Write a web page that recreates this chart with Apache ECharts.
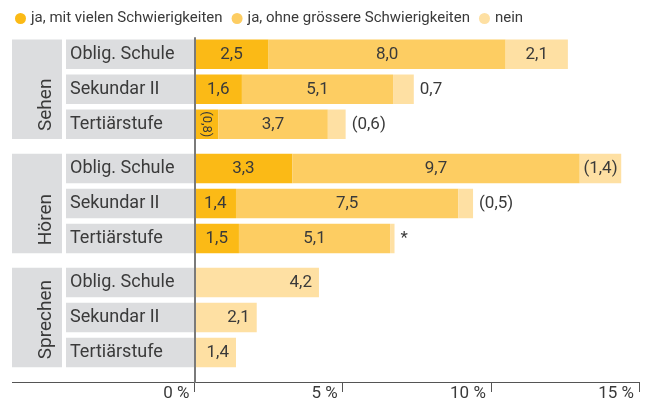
<!DOCTYPE html>
<html>
<head>
<meta charset="utf-8">
<script src="https://cdn.jsdelivr.net/npm/echarts@6/dist/echarts.min.js"></script>
<style>
  html, body { margin: 0; padding: 0; background: #ffffff; }
  #chart { width: 653px; height: 403px; }
</style>
</head>
<body>
<div id="chart"></div>
<script>
// Behinderungsart (Gruppen) und Bildungsstufe (Zeilen)
const gruppen = ['Sehen', 'Hören', 'Sprechen'];
const stufen = ['Oblig. Schule', 'Sekundar II', 'Tertiärstufe'];
const serienNamen = ['ja, mit vielen Schwierigkeiten', 'ja, ohne grössere Schwierigkeiten', 'nein'];

// Anteile in %, je Gruppe drei Bildungsstufen
const mitVielen     = [[2.5, 1.6, 0.8], [3.3, 1.4, 1.5], [null, null, null]];
const ohneGroessere = [[8.0, 5.1, 3.7], [9.7, 7.5, 5.1], [null, null, null]];
const nein          = [[2.1, 0.7, 0.6], [1.4, 0.5, 0.15], [4.2, 2.1, 1.4]];

// '()' = eingeschränkte Zuverlässigkeit, '*' = zu wenige Fälle
const hinweisMitVielen = [['', '', '()'], ['', '', ''], ['', '', '']];
const hinweisOhne      = [['', '', ''], ['', '', ''], ['', '', '']];
const hinweisNein      = [['', '', '()'], ['()', '()', '*'], ['', '', '']];

const achseMin = 0, achseMax = 15, achseSchritt = 5;

// Layout
const X0 = 194.5, RECHTS = 14;
const BAND = 35, BALKEN = 29.5;
const GRUPPE_TOP = [36.75, 151, 265];
const ACHSE_Y = 382;
const TEXT = '#3a3a3a';
const FONT = 'Roboto';
const farben = ['#fbba16', '#fdcd62', '#fee0a3'];

const werte = [mitVielen, ohneGroessere, nein];
const hinweise = [hinweisMitVielen, hinweisOhne, hinweisNein];

function zahl(v) { return v.toFixed(1).replace('.', ','); }
function beschriftung(v, h) {
  if (h === '*') return '*';
  if (h === '()') return '(' + zahl(v) + ')';
  return zahl(v);
}

const grids = [], xAxes = [], yAxes = [], series = [], graphic = [];

gruppen.forEach((g, gi) => {
  grids.push({ left: X0, right: RECHTS, top: GRUPPE_TOP[gi], height: BAND * 3 });
  xAxes.push({ gridIndex: gi, type: 'value', min: achseMin, max: achseMax, show: false });
  yAxes.push({
    gridIndex: gi, type: 'category', inverse: true, data: stufen,
    axisLine: { show: false }, axisTick: { show: false },
    axisLabel: {
      interval: 0, margin: 128.5, align: 'left', verticalAlign: 'middle',
      width: 124, height: BALKEN - 2, lineHeight: BALKEN - 2,
      padding: [0, 0, 2, 4],
      backgroundColor: '#dcdddf',
      fontFamily: FONT, fontSize: 18, color: TEXT
    }
  });

  werte.forEach((arr, si) => {
    const data = arr[gi].map((v, ri) => {
      if (v == null) return '-';
      const h = hinweise[si][gi][ri];
      const allein = werte.every((a, k) => k === si || a[gi][ri] == null);
      const lbl = { show: true, formatter: beschriftung(v, h) };
      if (si === 0 && v < 1) {
        Object.assign(lbl, { position: 'inside', rotate: -90, fontSize: 13 });
      } else if (allein) {
        Object.assign(lbl, { position: 'insideRight', distance: 7 });
      } else if (v < 1) {
        Object.assign(lbl, { position: 'right', distance: 6 });
      } else {
        lbl.position = 'inside';
      }
      return { value: v, label: lbl };
    });
    series.push({
      type: 'bar', name: serienNamen[si],
      xAxisIndex: gi, yAxisIndex: gi, stack: 'g' + gi,
      barWidth: BALKEN,
      itemStyle: { color: farben[si] },
      label: { fontFamily: FONT, fontSize: 17, color: TEXT },
      emphasis: { disabled: true },
      data
    });
  });

  // Gruppenkasten mit senkrechter Beschriftung
  const oben = GRUPPE_TOP[gi] + (BAND - BALKEN) / 2;
  const hoehe = BAND * 2 + BALKEN;
  graphic.push({
    type: 'rect', shape: { x: 12, y: oben, width: 50, height: hoehe },
    style: { fill: '#dcdddf' }, silent: true
  });
  graphic.push({
    type: 'text', x: 46.5, y: oben + hoehe - 8, rotation: Math.PI / 2,
    style: { text: g, fontFamily: FONT, fontSize: 19, fill: TEXT, align: 'left', verticalAlign: 'middle' },
    silent: true
  });
});

// Gemeinsame Prozentachse über alle Gruppen
grids.push({ left: X0, right: RECHTS, top: 38, bottom: 403 - ACHSE_Y });
xAxes.push({
  gridIndex: 3, type: 'value', min: achseMin, max: achseMax, interval: achseSchritt,
  axisLine: { show: true, lineStyle: { color: '#555555', width: 1 } },
  axisTick: { show: true, length: 10, lineStyle: { color: '#555555', width: 1 } },
  splitLine: { show: false },
  axisLabel: {
    formatter: v => v + ' %', align: 'right', padding: [0, 5, 0, 0], margin: 3,
    fontFamily: FONT, fontSize: 17, color: TEXT
  }
});
yAxes.push({
  gridIndex: 3, type: 'value', min: 0, max: 1, z: 10,
  axisLine: { show: true, lineStyle: { color: '#7a7a7a', width: 2 } },
  axisTick: { show: false }, axisLabel: { show: false }, splitLine: { show: false }
});

// Verlängerung der Grundlinie nach links
graphic.push({
  type: 'line', shape: { x1: 12, y1: ACHSE_Y + 0.5, x2: X0, y2: ACHSE_Y + 0.5 },
  style: { stroke: '#555555', lineWidth: 1 }, silent: true
});

const chart = echarts.init(document.getElementById('chart'), null, { renderer: 'canvas' });
chart.setOption({
  animation: false,
  textStyle: { fontFamily: FONT, color: TEXT },
  legend: {
    data: serienNamen, top: 6, left: 10,
    icon: 'circle',
    itemWidth: 11, itemHeight: 11, itemGap: 9,
    selectedMode: false,
    textStyle: { fontFamily: FONT, fontSize: 15, color: TEXT }
  },
  grid: grids,
  xAxis: xAxes,
  yAxis: yAxes,
  graphic: graphic,
  series: series
});
</script>
</body>
</html>
